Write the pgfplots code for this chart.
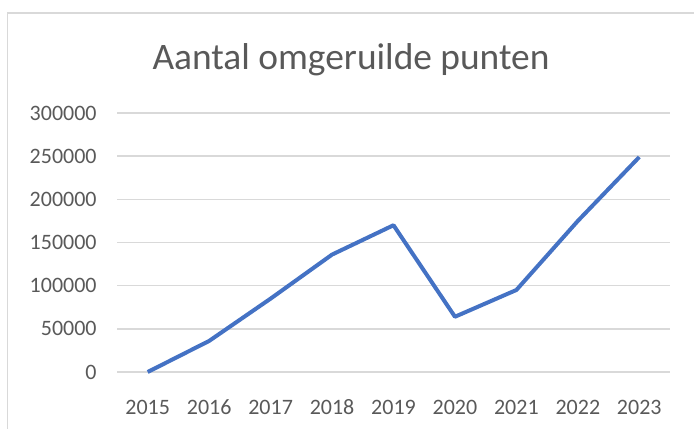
\documentclass[border=0pt]{standalone}
\usepackage{pgfplots}
\pgfplotsset{compat=1.18}
\usepackage{fontspec}
\setmainfont{Carlito}
\definecolor{lineblue}{HTML}{4472C4}
\definecolor{gridgray}{HTML}{D9D9D9}
\definecolor{textgray}{HTML}{595959}
\begin{document}
\begin{tikzpicture}
\useasboundingbox (-58.5pt,-28pt) rectangle (288.5pt,186pt);
\draw[gridgray, line width=0.75pt] (-54.75pt,-40pt) -- (-54.75pt,179.5pt) -- (300pt,179.5pt);
\begin{axis}[
  scale only axis, width=276.5pt, height=129.5pt,
  xmin=2014.5, xmax=2023.5, ymin=0, ymax=300000,
  xtick={2015,2016,2017,2018,2019,2020,2021,2022,2023},
  ytick={0,50000,100000,150000,200000,250000,300000},
  axis line style={draw=none},
  ymajorgrids, grid style={gridgray, line width=0.75pt},
  major tick length=0pt,
  scaled y ticks=false, scaled x ticks=false,
  /pgf/number format/1000 sep={},
  /pgf/number format/fixed,
  /pgf/number format/assume math mode=true,
  tick label style={font=\fontsize{11}{13}\selectfont, text=textgray, inner sep=0pt},
  xticklabel style={anchor=center, yshift=-17.5pt},
  yticklabel style={anchor=east, xshift=-10pt},
  clip=false,
]
\addplot[lineblue, line width=2pt, line join=round] coordinates {
  (2015,0) (2016,36000) (2017,85000) (2018,136000) (2019,170000)
  (2020,64000) (2021,95000) (2022,175000) (2023,249000)
};
\end{axis}
\node[anchor=base, font=\fontsize{18.7}{22}\selectfont, text=textgray, inner sep=0pt] at (117pt,151pt) {Aantal omgeruilde punten};
\end{tikzpicture}
\end{document}
